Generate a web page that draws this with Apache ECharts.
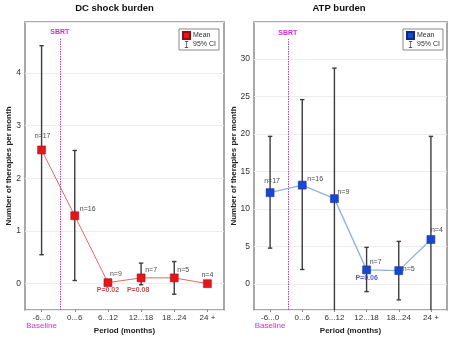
<!DOCTYPE html>
<html>
<head>
<meta charset="utf-8">
<script src="https://cdn.jsdelivr.net/npm/echarts@6/dist/echarts.min.js"></script>
<style>html,body{margin:0;padding:0;background:#fff}#c{width:454px;height:341px}</style>
</head>
<body>
<div id="c"></div>
<script>
// ---- data ----
const categories = ['-6...0', '0...6', '6...12', '12...18', '18...24', '24 +'];
const dcMean = [2.54, 1.29, 0.02, 0.11, 0.11, 0.0];
const dcLow  = [0.55, 0.06, null, -0.02, -0.2, null];
const dcHigh = [4.52, 2.53, null, 0.39, 0.42, null];
const dcN    = ['n=17', 'n=16', 'n=9', 'n=7', 'n=5', 'n=4'];
const dcP    = ['', '', 'P=0.02', 'P=0.08', '', ''];
const atpMean = [12.2, 13.2, 11.4, 1.9, 1.8, 5.95];
const atpLow  = [4.8, 1.95, -8, -1.0, -2.1, -8];
const atpHigh = [19.7, 24.6, 28.8, 4.9, 5.7, 19.7];
const atpN    = ['n=17', 'n=16', 'n=9', 'n=7', 'n=5', 'n=4'];
const atpP    = ['', '', '', 'P=0.06', '', ''];
const sbrtPos = 0.55;          // between baseline and first period (category units)
const dcSbrtTop = 4.67;
const atpSbrtTop = 32.7;

// ---- layout (label offsets from marker centre, px) ----
const dcNOff  = [[1,-14],[13,-7],[8,-9],[10,-8],[9,-8],[0,-9]];
const dcPOff  = [[0,0],[0,0],[0,7.5],[-3,12],[0,0],[0,0]];
const atpNOff = [[2,-12],[13,-6],[9,-7],[9,-8],[10,-2],[6,-9]];
const atpPOff = [[0,0],[0,0],[0,0],[0,8.5],[0,0],[0,0]];

const FONT = '"Liberation Sans", Arial, Helvetica, sans-serif';
const MAG = '#d22fd2';

function meanData(vals, labels, offs, color, bold) {
  return vals.map((v, i) => ({
    value: v,
    label: { show: labels[i] !== '', formatter: labels[i], position: 'inside', offset: offs[i],
             color: color, fontSize: 7, fontWeight: bold ? 'bold' : 'normal', fontFamily: FONT }
  }));
}
function errData(lo, hi) {
  return lo.map((l, i) => [i, l, hi[i]]).filter(d => d[1] !== null && d[2] !== null);
}
function renderErr(params, api) {
  const x = api.value(0);
  const p1 = api.coord([x, api.value(2)]);
  const p2 = api.coord([x, api.value(1)]);
  const cap = 2.2;
  const st = { stroke: '#3c3c3c', lineWidth: 1.4, fill: null };
  return { type: 'group', children: [
    { type: 'line', shape: { x1: p1[0], y1: p1[1], x2: p2[0], y2: p2[1] }, style: st },
    { type: 'line', shape: { x1: p1[0]-cap, y1: p1[1], x2: p1[0]+cap, y2: p1[1] }, style: st },
    { type: 'line', shape: { x1: p2[0]-cap, y1: p2[1], x2: p2[0]+cap, y2: p2[1] }, style: st }
  ]};
}
function catAxis(gi) {
  return {
    type: 'category', gridIndex: gi, data: categories, boundaryGap: true,
    axisLine: { show: false, onZero: false },
    axisTick: { show: true, alignWithLabel: true, interval: 0, length: 2, lineStyle: { color: '#888' } },
    axisLabel: { margin: 4, interval: 0, fontSize: 8, color: '#333', fontFamily: FONT,
      formatter: (v, i) => i === 0 ? '{a|' + v + '}\n{b|Baseline}' : '{a|' + v + '}',
      rich: { a: { fontSize: 8, color: '#333', fontFamily: FONT, lineHeight: 8 },
              b: { fontSize: 8, color: MAG, fontFamily: FONT, lineHeight: 7 } } },
    name: 'Period (months)', nameLocation: 'middle', nameGap: 17, nameMoveOverlap: false,
    nameTextStyle: { fontSize: 8, fontWeight: 'bold', color: '#222', fontFamily: FONT }
  };
}
function valAxis(gi, min, max, split, gap) {
  return {
    type: 'value', gridIndex: gi, min: min, max: max, splitNumber: split,
    axisLine: { show: false, onZero: false }, axisTick: { show: false },
    axisLabel: { margin: 4, fontSize: 8.5, color: '#333', fontFamily: FONT, showMinLabel: false, showMaxLabel: false,
      formatter: v => Number.isInteger(v) ? String(v) : '' },
    splitLine: { show: true, lineStyle: { color: '#ececec', width: 1 } },
    name: 'Number of therapies per month', nameLocation: 'middle', nameGap: gap, nameMoveOverlap: false,
    nameTextStyle: { fontSize: 8, fontWeight: 'bold', color: '#222', fontFamily: FONT }
  };
}
function hiddenX(gi) {
  return { type: 'value', gridIndex: gi, min: -0.5, max: 5.5, show: false, axisLine: { onZero: false } };
}
function sbrtSeries(xi, yi, ymin, ytop) {
  return {
    type: 'scatter', xAxisIndex: xi, yAxisIndex: yi, data: [], silent: true,
    markLine: { symbol: 'none', silent: true, animation: false,
      lineStyle: { color: MAG, type: [1.5, 1], width: 1 },
      label: { show: true, position: 'end', formatter: 'SBRT', color: MAG, fontWeight: 'bold', fontSize: 7, fontFamily: FONT, distance: 2 },
      data: [[{ coord: [sbrtPos, ymin] }, { coord: [sbrtPos, ytop] }]] }
  };
}
const ciIcon = 'path://M0,0h8v1.5h-3.25v13h3.25v1.5h-8v-1.5h3.25v-13h-3.25z';
function legend(left, meanName, ciName, color) {
  return {
    orient: 'vertical', left: left, top: 29, itemWidth: 7, itemHeight: 7, itemGap: 1,
    padding: [2, 3, 2, 3], borderColor: '#8a8a8a', borderWidth: 1, backgroundColor: '#fff',
    textStyle: { fontSize: 7, color: '#333', fontFamily: FONT, padding: [0, 0, 0, -2] },
    formatter: n => n.endsWith('Mean') ? 'Mean' : '95% CI',
    data: [ { name: meanName, icon: 'rect', itemStyle: { color: color } },
            { name: ciName, icon: ciIcon, itemStyle: { color: '#3c3c3c' } } ],
    selectedMode: false
  };
}
function errSeries(name, gi, lo, hi) {
  return { name: name, type: 'custom', xAxisIndex: gi, yAxisIndex: gi, clip: true, z: 3,
    dimensions: ['x', 'lo', 'hi'],
    renderItem: renderErr, data: errData(lo, hi) };
}

const chart = echarts.init(document.getElementById('c'), null, { renderer: 'canvas' });
chart.setOption({
  animation: false,
  backgroundColor: '#fff',
  title: [
    { text: 'DC shock burden', left: 114.5, textAlign: 'center', top: 3, padding: 0,
      textStyle: { fontSize: 9.5, fontWeight: 'bold', color: '#111', fontFamily: FONT } },
    { text: 'ATP burden', left: 339, textAlign: 'center', top: 3, padding: 0,
      textStyle: { fontSize: 9.5, fontWeight: 'bold', color: '#111', fontFamily: FONT } }
  ],
  legend: [ legend(179, 'DC Mean', 'DC CI', '#e8141c'), legend(403, 'ATP Mean', 'ATP CI', '#1848d0') ],
  grid: [
    { left: 25, right: 230, top: 22, bottom: 31, outerBoundsMode: 'none', containLabel: false,
      show: true, borderColor: '#8c8c8c', borderWidth: 1.5, backgroundColor: 'transparent' },
    { left: 254, right: 7, top: 22, bottom: 31, outerBoundsMode: 'none', containLabel: false,
      show: true, borderColor: '#8c8c8c', borderWidth: 1.5, backgroundColor: 'transparent' }
  ],
  xAxis: [ catAxis(0), catAxis(1), hiddenX(0), hiddenX(1) ],
  yAxis: [ valAxis(0, -0.5, 4.97, 5, 12.5), valAxis(1, -3.45, 34.95, 8, 16.5) ],
  series: [
    sbrtSeries(2, 0, -0.5, dcSbrtTop),
    sbrtSeries(3, 1, -3.45, atpSbrtTop),
    errSeries('DC CI', 0, dcLow, dcHigh),
    { name: 'DC Mean', type: 'line', xAxisIndex: 0, yAxisIndex: 0, z: 5,
      symbol: 'rect', symbolSize: 8,
      itemStyle: { color: '#e8141c', borderColor: '#9a0a10', borderWidth: 0.5 },
      lineStyle: { color: '#e06a6a', width: 1 },
      data: meanData(dcMean, dcN, dcNOff, '#4a4a4a', false) },
    { name: 'DC P', type: 'scatter', xAxisIndex: 0, yAxisIndex: 0, z: 6, symbolSize: 0, silent: true,
      itemStyle: { color: 'rgba(0,0,0,0)' },
      data: meanData(dcMean, dcP, dcPOff, '#d0101c', true) },
    errSeries('ATP CI', 1, atpLow, atpHigh),
    { name: 'ATP Mean', type: 'line', xAxisIndex: 1, yAxisIndex: 1, z: 5,
      symbol: 'rect', symbolSize: 8,
      itemStyle: { color: '#1848d0', borderColor: '#0a2a90', borderWidth: 0.5 },
      lineStyle: { color: '#8db2e2', width: 1.3 },
      data: meanData(atpMean, atpN, atpNOff, '#4a4a4a', false) },
    { name: 'ATP P', type: 'scatter', xAxisIndex: 1, yAxisIndex: 1, z: 6, symbolSize: 0, silent: true,
      itemStyle: { color: 'rgba(0,0,0,0)' },
      data: meanData(atpMean, atpP, atpPOff, '#2a30c0', true) }
  ]
});
</script>
</body>
</html>
